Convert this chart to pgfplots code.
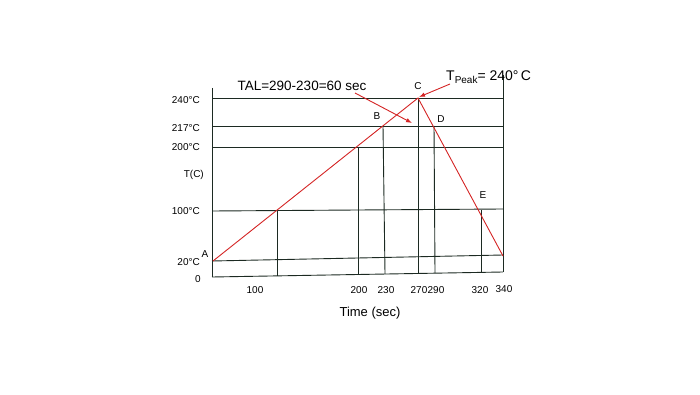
\documentclass[border=0pt]{standalone}
\usepackage{pgfplots}
\pgfplotsset{compat=1.18}
\usepackage{fontspec}
\setmainfont{Liberation Sans}
\usetikzlibrary{arrows.meta}
\definecolor{gridc}{RGB}{28,42,34}
\definecolor{redc}{RGB}{212,36,36}
\begin{document}
\begin{tikzpicture}
\begin{axis}[
  scale only axis, width=700pt, height=394pt,
  xmin=0, xmax=700, ymin=0, ymax=394,
  hide axis, clip=false,
  every axis plot/.append style={line width=0.9pt},
]
\path (axis cs:0,0) rectangle (axis cs:700,394);
% frame and grid (schematic positions)
\addplot[gridc] coordinates {(212,306) (212,117)};
\addplot[gridc] coordinates {(503,319) (503,122)};
\addplot[gridc] coordinates {(212,117) (503,122)};
\addplot[gridc] coordinates {(212,133) (503,139)};
\addplot[gridc] coordinates {(212,183) (503,185)};
\addplot[gridc] coordinates {(212,247) (503,247)};
\addplot[gridc] coordinates {(212,268) (503,268)};
\addplot[gridc] coordinates {(212,296) (503,296)};
% verticals
\addplot[gridc] coordinates {(277,183) (277,118)};
\addplot[gridc] coordinates {(358,247) (358,119.5)};
\addplot[gridc] coordinates {(383,268) (385,120)};
\addplot[gridc] coordinates {(418,296) (418,120.5)};
\addplot[gridc] coordinates {(434,268) (435,121)};
\addplot[gridc] coordinates {(481,184) (481,121.6)};
% profile
\addplot[redc] coordinates {(213,133) (418,296) (503,138)};
% arrows
\addplot[redc, -{Latex[length=6pt,width=4.5pt]}] coordinates {(355,301) (412,271)};
\addplot[redc, -{Latex[length=6pt,width=4.5pt]}] coordinates {(450,310) (419,297)};
% texts
\node[font=\fontsize{13.5}{15}\selectfont] at (axis cs:302,308) {TAL=290-230=60 sec};
\node[anchor=west, inner sep=0pt, font=\fontsize{14}{16}\selectfont] at (axis cs:446,317) {T\raisebox{-0.45ex}{\fontsize{10}{12}\selectfont Peak}= 240\textdegree\,C};
\node[font=\fontsize{10}{12}\selectfont] at (axis cs:418,308) {C};
\node[font=\fontsize{10}{12}\selectfont] at (axis cs:377,278) {B};
\node[font=\fontsize{10}{12}\selectfont] at (axis cs:441,275) {D};
\node[font=\fontsize{10}{12}\selectfont] at (axis cs:483,199) {E};
\node[font=\fontsize{10}{12}\selectfont] at (axis cs:205,140) {A};
\begin{scope}[every node/.style={anchor=east, inner sep=0pt, font=\fontsize{10}{12}\selectfont}]
\node at (axis cs:200,294) {240\textdegree C};
\node at (axis cs:200,266) {217\textdegree C};
\node at (axis cs:200,247) {200\textdegree C};
\node at (axis cs:204,219) {T(C)};
\node at (axis cs:200,183) {100\textdegree C};
\node at (axis cs:200,132) {20\textdegree C};
\node at (axis cs:201,115) {0};
\end{scope}
\begin{scope}[every node/.style={inner sep=0pt, font=\fontsize{10}{12}\selectfont}]
\node at (axis cs:255,104) {100};
\node at (axis cs:359,104) {200};
\node at (axis cs:386,104) {230};
\node at (axis cs:419,104) {270};
\node at (axis cs:436,104) {290};
\node at (axis cs:480,104) {320};
\node at (axis cs:504,105) {340};
\end{scope}
\node[font=\fontsize{13}{15}\selectfont] at (axis cs:370,81) {Time (sec)};
\end{axis}
\end{tikzpicture}
\end{document}
